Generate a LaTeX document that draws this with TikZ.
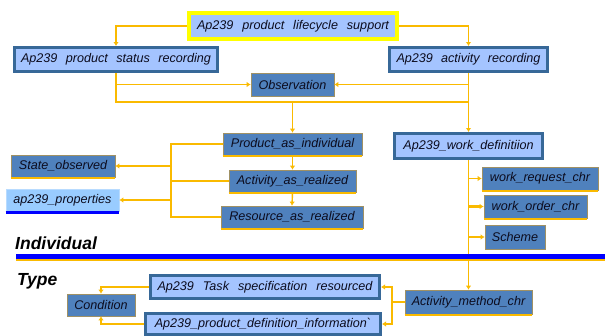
\documentclass[tikz,border=0pt]{standalone}
\usepackage{fontspec}
\setmainfont{Liberation Sans}
\usetikzlibrary{arrows.meta}

\definecolor{lightfill}{RGB}{164,196,255}
\definecolor{hdrblue}{RGB}{55,104,152}
\definecolor{midblue}{RGB}{79,129,189}
\definecolor{propfill}{RGB}{153,204,255}
\definecolor{connor}{RGB}{250,186,0}
\definecolor{edgetan}{RGB}{160,145,100}
\definecolor{topyellow}{RGB}{255,255,0}
\definecolor{sepblue}{RGB}{0,0,255}
\definecolor{txt}{RGB}{12,12,30}

\newcommand{\boxfont}{\fontsize{12.6}{14}\selectfont\itshape}
\newcommand{\lblfont}{\fontsize{17.5}{20}\selectfont\bfseries\itshape}

\tikzset{
  hdr/.style={draw=hdrblue, line width=3pt, fill=lightfill, inner sep=0pt,
              text=txt, font=\boxfont},
  topbox/.style={draw=topyellow, line width=4pt, fill=lightfill, inner sep=0pt,
                 text=txt, font=\boxfont},
  mid/.style={draw=edgetan, line width=0.7pt, fill=midblue, inner sep=0pt,
              text=txt, font=\boxfont},
  propbox/.style={draw=propfill!70!white, line width=0.7pt, fill=propfill, inner sep=0pt,
                  text=txt, font=\boxfont},
  conn/.style={draw=connor, line width=1.4pt},
  heavy/.style={line width=2.4pt},
  arr/.style={-{Latex[length=4pt,width=5.5pt]}},
  botedge/.style={draw=connor, line width=2.4pt},
  propedge/.style={draw=sepblue, line width=2.6pt},
}

\begin{document}
\begin{tikzpicture}[x=1pt,y=-1pt]
\useasboundingbox (0,0) rectangle (605,335);

% composite application protocol boxes
\node[topbox, minimum width=208pt, minimum height=26pt] (top) at (293,26)
  {\makebox[192pt][s]{Ap239 product lifecycle support}};
\node[hdr, minimum width=203pt, minimum height=24pt] (status) at (116,59.5)
  {\makebox[190pt][s]{Ap239 product status recording}};
\node[hdr, minimum width=158pt, minimum height=24pt] (actrec) at (468.5,59.5)
  {\makebox[144pt][s]{Ap239 activity recording}};
\node[hdr, minimum width=148pt, minimum height=25pt] (workdef) at (468.5,146)
  {Ap239\_work\_definitiion};
\node[hdr, minimum width=229pt, minimum height=23pt] (task) at (265,287)
  {\makebox[215pt][s]{Ap239 Task specification resourced}};
\node[hdr, minimum width=235pt, minimum height=21pt] (proddef) at (263,324)
  {Ap239\_product\_definition\_information\textasciigrave};

% entity boxes
\node[mid, minimum width=83pt, minimum height=23pt] (obs) at (292.5,84.5) {Observation};
\node[mid, minimum width=139pt, minimum height=22pt] (prod) at (292.5,144) {Product\_as\_individual};
\node[mid, minimum width=127pt, minimum height=22pt] (actr) at (292.5,181) {Activity\_as\_realized};
\node[mid, minimum width=142pt, minimum height=22pt] (res) at (292,217) {Resource\_as\_realized};
\node[mid, minimum width=104pt, minimum height=22pt] (state) at (63,166) {State\_observed};
\node[propbox, minimum width=113pt, minimum height=22pt] (props) at (62.5,200) {ap239\_properties};
\node[mid, minimum width=116pt, minimum height=23pt] (wreq) at (540,178.5) {work\_request\_chr};
\node[mid, minimum width=103pt, minimum height=23pt] (word) at (535.5,206.5) {work\_order\_chr};
\node[mid, minimum width=60pt, minimum height=24pt] (scheme) at (515,237) {Scheme};
\node[mid, minimum width=68pt, minimum height=22pt] (cond) at (101,305) {Condition};
\node[mid, minimum width=127pt, minimum height=24pt] (amc) at (468.5,302) {Activity\_method\_chr};

% heavy lower edges
\foreach \n in {prod,actr,res,state,wreq,word,amc}
  \draw[botedge] ([yshift=-0.8pt]\n.south west) -- ([yshift=-0.8pt]\n.south east);
\draw[propedge] ([yshift=-1pt]props.south west) -- ([yshift=-1pt]props.south east);

% helper coordinates for the bus lines
\coordinate (hline) at (0,102);
\coordinate (bx) at (171,0);
\coordinate (rx) at (392,0);

% top level
\draw[conn,arr] (top.west) -| (status.north);
\draw[conn,arr] (top.east) -| (actrec.north);

% recording level
\draw[conn] (status.south) |- (actrec.south |- hline);
\draw[conn,arr] (actrec.south) -- (workdef.north);
\draw[conn,arr] (status.south |- obs.west) -- (obs.west);
\draw[conn,arr] (actrec.south |- obs.east) -- (obs.east);
\draw[conn,arr] (prod.north |- hline) -- (prod.north);

% individual chain
\draw[conn,arr] (prod.south) -- (actr.north);
\draw[conn,arr] (actr.south) -- (res.north);
\draw[conn] (prod.west) -| (bx |- res.west) -- (res.west);
\draw[conn,heavy] (actr.west) -- (bx |- actr.west);
\draw[conn,arr] ([xshift=1pt]bx |- state.east) -- (state.east);
\draw[conn,arr] (bx |- props.east) -- (props.east);

% work definition
\draw[conn,arr] (workdef.south) -- (amc.north);
\draw[conn,arr] (workdef.south |- wreq.west) -- (wreq.west);
\draw[conn,heavy,arr] (workdef.south |- word.west) -- (word.west);
\draw[conn,arr] (workdef.south |- scheme.west) -- (scheme.west);

% type level
\draw[conn] (amc.west) -- (rx |- amc.west);
\draw[conn,arr] (rx |- amc.west) |- (task.east);
\draw[conn,arr] (rx |- amc.west) |- (proddef.east);
\draw[conn,arr] (task.west) -| (cond.north);
\draw[conn,arr] (proddef.west) -| (cond.south);

% separator between individual and type
\fill[sepblue] (16,254) rectangle (605,259);
\fill[connor] (16,259) rectangle (605,261);
\node[anchor=base west, inner sep=0pt, font=\lblfont] (lblind) at (15,249) {Individual};
\node[anchor=base west, inner sep=0pt, font=\lblfont] (lbltype) at (17,285) {Type};
\end{tikzpicture}
\end{document}
